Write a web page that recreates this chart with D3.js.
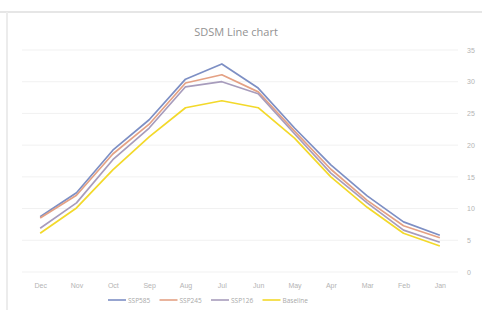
<!DOCTYPE html>
<html>
<head>
<meta charset="utf-8">
<script src="https://cdn.jsdelivr.net/npm/d3@7"></script>
<style>
  body { margin: 0; background: #fff; }
  svg { display: block; font-family: "Open Sans", "Noto Sans", sans-serif; }
</style>
</head>
<body>
<svg id="chart"></svg>
<script>
// categories as displayed (right-to-left sheet, so Jan sits at the right)
const months = ["Dec", "Nov", "Oct", "Sep", "Aug", "Jul", "Jun", "May", "Apr", "Mar", "Feb", "Jan"];
const yTicks = [0, 5, 10, 15, 20, 25, 30, 35];

const seriesNames = ["SSP585", "SSP245", "SSP126", "Baseline"];
const ssp585 = [8.7, 12.5, 19.2, 24.0, 30.4, 32.8, 29.0, 22.7, 16.9, 12.0, 7.9, 5.8];
const ssp245 = [8.5, 12.1, 18.6, 23.3, 29.8, 31.1, 28.4, 22.2, 16.2, 11.3, 7.3, 5.4];
const ssp126 = [6.9, 10.9, 17.7, 22.7, 29.2, 30.0, 28.1, 21.8, 15.6, 10.9, 6.6, 4.7];
const baseline = [6.1, 10.1, 16.1, 21.3, 25.9, 27.0, 25.9, 21.1, 15.0, 10.2, 6.1, 4.1];

const width = 482;
const height = 310;
const svg = d3.select("#chart").attr("width", width).attr("height", height);

const colors = ["#7d8fc4", "#e4a184", "#a79cbc", "#f3d92a"];
const series = [ssp585, ssp245, ssp126, baseline];

// photo frame edges
svg.append("line").attr("x1", 0).attr("x2", width).attr("y1", 12).attr("y2", 12)
  .attr("stroke", "#e6e6e6").attr("stroke-width", 2);
svg.append("line").attr("x1", 7).attr("x2", 7).attr("y1", 12).attr("y2", height)
  .attr("stroke", "#ececec").attr("stroke-width", 2);

// title
svg.append("text")
  .attr("x", 236).attr("y", 36)
  .attr("text-anchor", "middle")
  .attr("font-size", 11)
  .attr("fill", "#929292")
  .text("SDSM Line chart");

const x = d3.scalePoint().domain(months).range([22, 458]).padding(0.5);
const y = d3.scaleLinear().domain([0, 35]).range([272, 50]);

// gridlines
svg.append("g")
  .selectAll("line")
  .data(yTicks)
  .join("line")
  .attr("x1", 22).attr("x2", 458)
  .attr("y1", d => y(d)).attr("y2", d => y(d))
  .attr("stroke", "#f1f1f1");

// y axis on the right
const yAxis = svg.append("g")
  .attr("transform", "translate(458,0)")
  .call(d3.axisRight(y).tickValues(yTicks).tickSize(0).tickPadding(9));
yAxis.select(".domain").remove();
yAxis.selectAll("text").attr("fill", "#b4b4b4").attr("font-size", 7);

// x axis labels
const xAxis = svg.append("g")
  .attr("transform", "translate(0,279)")
  .call(d3.axisBottom(x).tickSize(0).tickPadding(4));
xAxis.select(".domain").remove();
xAxis.selectAll("text").attr("fill", "#b4b4b4").attr("font-size", 7);

// lines
const line = d3.line()
  .x((d, i) => x(months[i]))
  .y(d => y(d));

svg.append("g")
  .selectAll("path")
  .data(series)
  .join("path")
  .attr("d", line)
  .attr("fill", "none")
  .attr("stroke", (d, i) => colors[i])
  .attr("stroke-width", 1.7)
  .attr("stroke-linejoin", "round");

// legend
const legend = svg.append("g").attr("transform", "translate(108,300)");
const entry = legend.selectAll("g")
  .data(seriesNames)
  .join("g")
  .attr("transform", (d, i) => `translate(${i * 51.5},0)`);
entry.append("line")
  .attr("x1", 0).attr("x2", 18)
  .attr("stroke", (d, i) => colors[i])
  .attr("stroke-width", 1.6);
entry.append("text")
  .attr("x", 20).attr("y", 2.5)
  .attr("font-size", 6.5)
  .attr("fill", "#a8a8a8")
  .text(d => d);
</script>
</body>
</html>
